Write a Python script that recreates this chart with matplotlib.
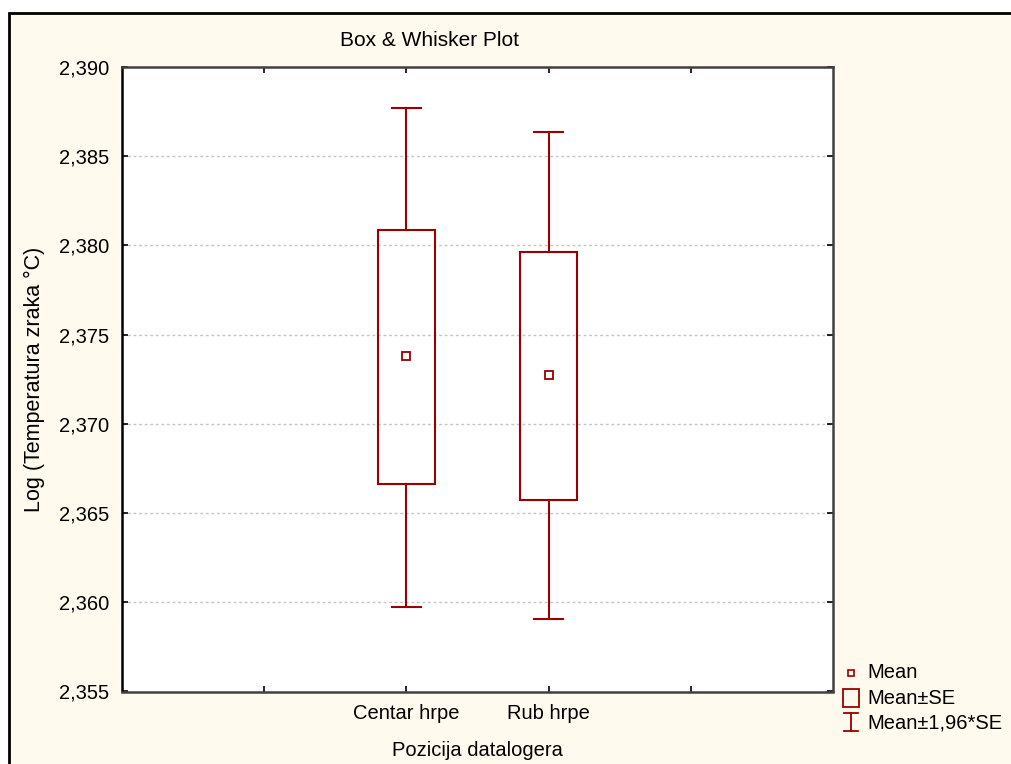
import matplotlib.pyplot as plt
from matplotlib.patches import Rectangle
from matplotlib.lines import Line2D
from matplotlib.ticker import FuncFormatter

plt.rcParams['font.family'] = ['Liberation Sans', 'DejaVu Sans']

# values
categories = ['Centar hrpe', 'Rub hrpe']
means = [2.37381, 2.37274]
se_low = [2.36663, 2.36575]
se_high = [2.38087, 2.37965]
ci_low = [2.35975, 2.35908]
ci_high = [2.38772, 2.38635]
yticks = [2.355, 2.360, 2.365, 2.370, 2.375, 2.380, 2.385, 2.390]

dark_red = '#990000'
cream = '#fff9ee'

fig = plt.figure(figsize=(10.11, 7.64), dpi=100)
fig.patch.set_facecolor('white')

# cream panel with black frame (top and left edges visible)
W, H = 1011, 764
fig.patches.append(Rectangle((9 / W, -0.05), 1.1, (764 - 13) / H + 0.05,
                             transform=fig.transFigure, facecolor=cream,
                             edgecolor='black', linewidth=2, zorder=-10))

ax = fig.add_axes([122 / W, 1 - 691.5 / H, (833 - 122) / W, (691.5 - 67) / H])
ax.set_facecolor('white')

xpos = [2, 3]
box_w = 0.4
cap_w = 0.2
for x, m, lo, hi, clo, chi in zip(xpos, means, se_low, se_high, ci_low, ci_high):
    ax.add_patch(Rectangle((x - box_w / 2, lo), box_w, hi - lo, facecolor='none',
                           edgecolor=dark_red, linewidth=1.5, zorder=3))
    ax.plot([x, x], [hi, chi], color=dark_red, lw=1.5, zorder=3)
    ax.plot([x, x], [clo, lo], color=dark_red, lw=1.5, zorder=3)
    ax.plot([x - cap_w / 2, x + cap_w / 2], [chi, chi], color=dark_red, lw=1.5, zorder=3)
    ax.plot([x - cap_w / 2, x + cap_w / 2], [clo, clo], color=dark_red, lw=1.5, zorder=3)
    ax.plot([x], [m], marker='s', ms=6, mfc='white', mec=dark_red, mew=1.3, zorder=4)

ax.set_xlim(0, 5)
ax.set_ylim(2.355, 2.390)
ax.set_yticks(yticks)
ax.yaxis.set_major_formatter(FuncFormatter(lambda v, p: f'{v:.3f}'.replace('.', ',')))
ax.set_xticks([1, 2, 3, 4])
ax.set_xticklabels(['', categories[0], categories[1], ''])
ax.tick_params(axis='both', direction='in', length=4, width=1.2, color='black',
               labelsize=14.5, top=True, right=True)
ax.tick_params(axis='x', pad=9)
ax.tick_params(axis='y', pad=9)

for v in yticks[1:-1]:
    ax.axhline(v, color='#c4c4c4', lw=1, linestyle=(0, (2, 2)), zorder=1)

for s in ax.spines.values():
    s.set_color('#404040')
    s.set_linewidth(1.8)
ax.spines['left'].set_color('black')

ax.set_xlabel('Pozicija datalogera', fontsize=14.5, labelpad=13)
ax.set_ylabel('Log (Temperatura zraka °C)', fontsize=15.5, labelpad=10)

fig.text(429 / W, 1 - 40 / H, 'Box & Whisker Plot', fontsize=15, ha='center', va='center')

# legend drawn by hand at right bottom
tf = fig.transFigure
def fx(px):
    return px / W
def fy(py):
    return 1 - py / H

fig.add_artist(Rectangle((fx(847.5), fy(676)), 6 / W, 6 / H, transform=tf,
                         facecolor='white', edgecolor=dark_red, lw=1.2))
fig.add_artist(Rectangle((fx(843), fy(707)), 16 / W, 18 / H, transform=tf,
                         facecolor='none', edgecolor=dark_red, lw=1.3))
fig.add_artist(Line2D([fx(851), fx(851)], [fy(713), fy(731)], transform=tf, color=dark_red, lw=1.3))
fig.add_artist(Line2D([fx(844), fx(858)], [fy(713), fy(713)], transform=tf, color=dark_red, lw=1.3))
fig.add_artist(Line2D([fx(844), fx(858)], [fy(731), fy(731)], transform=tf, color=dark_red, lw=1.3))
for label, py in zip(['Mean', 'Mean±SE', 'Mean±1,96*SE'], [673, 698, 723]):
    fig.text(fx(867), fy(py), label, fontsize=14.5, ha='left', va='center')

fig.savefig('out.png', dpi=100)
